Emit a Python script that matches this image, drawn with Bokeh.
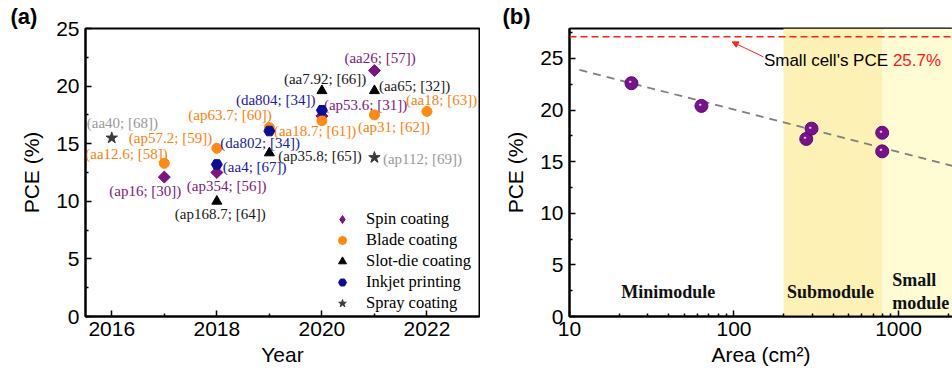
from bokeh.plotting import figure
from bokeh.layouts import row
from bokeh.models import (ColumnDataSource, Legend, LegendItem, Label, FixedTicker,
                          Arrow, NormalHead, BoxAnnotation, Span, Range1d, PrintfTickFormatter)
from bokeh.core.properties import value
from bokeh.embed import file_html
from bokeh.resources import INLINE

# ---------------- panel (a) data ----------------
spin_year = [2017, 2018, 2020, 2021]
spin_pce = [12.1, 12.5, 17.4, 21.35]
spin_labels = ["(ap16; [30])", "(ap354; [56])", "(ap53.6; [31])", "(aa26; [57])"]

blade_year = [2017, 2018, 2019, 2020, 2021, 2022]
blade_pce = [13.3, 14.6, 16.4, 17.0, 17.5, 17.8]
blade_labels = ["(aa12.6; [58])", "(ap57.2; [59])", "(ap63.7; [60])",
                "(aa18.7; [61])", "(ap31; [62])", "(aa18; [63])"]

slot_year = [2018, 2019, 2020, 2021]
slot_pce = [10.0, 14.2, 19.6, 19.6]
slot_labels = ["(ap168.7; [64])", "(ap35.8; [65])", "(aa7.92; [66])", "(aa65; [32])"]

inkjet_year = [2018, 2019, 2020]
inkjet_pce = [13.2, 16.1, 17.9]
inkjet_labels = ["(aa4; [67])", "(da802; [34])", "(da804; [34])"]

spray_year = [2016, 2021]
spray_pce = [15.5, 13.8]
spray_labels = ["(aa40; [68])", "(ap112; [69])"]

method_names = ["Spin coating", "Blade coating", "Slot-die coating", "Inkjet printing", "Spray coating"]

year_ticks = [2016, 2018, 2020, 2022]
year_minor = [2017, 2019, 2021]
pce_ticks = [0, 5, 10, 15, 20, 25]
pce_minor = [2.5, 7.5, 12.5, 17.5, 22.5, 27.5]

# ---------------- panel (b) data ----------------
area_cm2 = [23.8, 63.4, 275, 296, 796, 796]
pce_b = [22.6, 20.4, 17.2, 18.2, 17.8, 16.0]
fit_area = [11.5, 2300]
fit_pce = [23.9, 14.45]
small_cell_line = 27.1
submodule_range = [200, 800]
small_module_start = 800
area_ticks = [10, 100, 1000]
area_minor = [20, 30, 40, 50, 60, 70, 80, 90, 200, 300, 400, 500, 600, 700, 800, 900, 2000]

# label pixel offsets (dx, dy) relative to points, panel (a)
spin_off = [(-55, 14), (-30, 13.5), (2, -11), (-30, -13)]
blade_off = [(-79, -9), (-88, -10), (-81, -13), (-48, 10.5), (-16.5, 12), (-21, -11)]
slot_off = [(-42, 13), (9, 3), (-38, -12), (4.5, -5)]
inkjet_off = [(6, 3), (-49, 12), (-86, -10)]
spray_off = [(-25, -15), (8.5, 1)]

SANS = "Liberation Sans"
SERIF = "Liberation Serif"


def style_axes(p):
    for ax in (p.xaxis[0], p.yaxis[0]):
        ax.axis_line_width = 2
        ax.axis_line_color = "black"
        ax.major_tick_in = 6
        ax.major_tick_out = 0
        ax.minor_tick_in = 3
        ax.minor_tick_out = 0
        ax.major_tick_line_width = 1.5
        ax.minor_tick_line_width = 1.5
        ax.major_label_text_font = SANS
        ax.major_label_text_font_size = "21px"
        ax.major_label_text_color = "black"
        ax.axis_label_text_font = SANS
        ax.axis_label_text_font_size = "21px"
        ax.axis_label_text_font_style = "normal"
        ax.axis_label_text_color = "black"
    p.xaxis.major_label_standoff = 5
    p.yaxis.major_label_standoff = 6
    p.xaxis.axis_label_standoff = 4
    p.yaxis.axis_label_standoff = 10
    p.xgrid.visible = False
    p.ygrid.visible = False
    p.outline_line_color = "black"
    p.outline_line_width = 2
    p.outline_line_alpha = 1


def panel_title(p, text, offset):
    p.title.text = text
    p.title.align = "left"
    p.title.offset = offset
    p.title.standoff = 0
    p.title.text_font = SANS
    p.title.text_font_style = "bold"
    p.title.text_font_size = "22px"
    p.title.text_color = "black"


# ---------------- panel (a) ----------------
pa = figure(width=480, height=375, output_backend="svg", toolbar_location=None,
            x_range=Range1d(2015.5, 2023.0), y_range=Range1d(0, 25),
            min_border_left=85, min_border_right=1, min_border_top=27, min_border_bottom=59,
            x_axis_label="Year", y_axis_label="PCE (%)")
pa.xaxis.ticker = FixedTicker(ticks=year_ticks, minor_ticks=year_minor)
pa.yaxis.ticker = FixedTicker(ticks=pce_ticks, minor_ticks=pce_minor)
style_axes(pa)
panel_title(pa, "(a)", -75)

series = [
    (spin_year, spin_pce, spin_labels, spin_off, "square", 8.5, "#7d1480", "#7d1a80"),
    (blade_year, blade_pce, blade_labels, blade_off, "circle", 10, "#ff8a12", "#ff7f0e"),
    (slot_year, slot_pce, slot_labels, slot_off, "triangle", 10, "#000000", "#1a1a1a"),
    (inkjet_year, inkjet_pce, inkjet_labels, inkjet_off, "hex", 11, "#0c0c96", "#1a1aa6"),
    (spray_year, spray_pce, spray_labels, spray_off, "star", 12, "#3a3a3a", "#9a9a9a"),
]
items = []
for (xs, ys, labs, offs, marker, size, mcolor, tcolor), name in zip(series, method_names):
    src = ColumnDataSource(dict(x=xs, y=ys, t=labs,
                                dx=[o[0] for o in offs], dy=[o[1] for o in offs]))
    r = pa.scatter("x", "y", source=src, marker=marker, size=size,
                   angle=0.785398 if marker == "square" else 0.0,
                   fill_color=mcolor, line_color=mcolor)
    pa.text("x", "y", text="t", source=src, x_offset="dx", y_offset="dy",
            text_font=value(SERIF), text_font_size="15px", text_color=tcolor,
            text_align="left", text_baseline="middle")
    if marker == "square":
        # legend swatch: a diamond (the rotated square is not rotated inside legends)
        r_leg = pa.scatter(x=[float("nan")], y=[float("nan")], marker="diamond", size=15,
                           fill_color=mcolor, line_color=mcolor)
        items.append(LegendItem(label=name, renderers=[r_leg]))
    else:
        items.append(LegendItem(label=name, renderers=[r]))

leg = Legend(items=items, location=(247, 3), border_line_alpha=0, background_fill_alpha=0,
             padding=0, margin=0, spacing=1, glyph_width=20, glyph_height=20,
             label_height=20, label_standoff=14, label_text_font=SERIF,
             label_text_font_size="16.5px", label_text_color="black")
pa.add_layout(leg)

# ---------------- panel (b) ----------------
pb = figure(width=472, height=375, output_backend="svg", toolbar_location=None,
            x_axis_type="log", x_range=Range1d(10, 2130), y_range=Range1d(0, 27.9),
            min_border_left=89, min_border_right=0, min_border_top=28, min_border_bottom=59,
            x_axis_label="Area (cm²)", y_axis_label="PCE (%)")
pb.xaxis.ticker = FixedTicker(ticks=area_ticks, minor_ticks=area_minor)
pb.xaxis.formatter = PrintfTickFormatter(format="%d")
pb.yaxis.ticker = FixedTicker(ticks=pce_ticks, minor_ticks=pce_minor)
style_axes(pb)
panel_title(pb, "(b)", -67)

pb.add_layout(BoxAnnotation(left=submodule_range[0], right=submodule_range[1],
                            fill_color="#fef1b6", fill_alpha=1, line_alpha=0, level="underlay"))
pb.add_layout(BoxAnnotation(left=small_module_start, fill_color="#fffcd3", fill_alpha=1,
                            line_alpha=0, level="underlay"))

pb.add_layout(Span(location=small_cell_line, dimension="width", line_color="#ff2020",
                   line_dash="7 4", line_width=1.5))
pb.line(fit_area, fit_pce, line_color="#7f7f7f", line_dash="8 6", line_width=1.8)

pb.scatter(area_cm2, pce_b, marker="circle", size=13, fill_color="#76128a", line_color="#5c0a6e")
pb.text(area_cm2, pce_b, text=["●"] * len(area_cm2), x_offset=-1.5, y_offset=-2,
        text_font=value(SANS), text_font_size="5px", text_color="#f0d8f6",
        text_align="center", text_baseline="middle")

pb.add_layout(Arrow(x_start=151, y_start=25.15, x_end=97.5, y_end=26.6,
                    line_color="#ff2020", line_width=1,
                    end=NormalHead(size=6, fill_color="#ff2020", line_color="#ff2020")))
pb.add_layout(Label(x=152, y=24.8, text="Small cell's PCE", text_font=SANS,
                    text_font_size="17px", text_color="black", text_baseline="middle"))
pb.add_layout(Label(x=152, y=24.8, x_offset=129, text="25.7%", text_font=SANS,
                    text_font_size="17px", text_color="#ff1a1a", text_baseline="middle"))

for txt, xx, yy, align in [("Minimodule", 39.8, 2.33, "center"),
                           ("Submodule", 386, 2.33, "center"),
                           ("Small", 916, 3.49, "left"),
                           ("module", 916, 1.26, "left")]:
    pb.add_layout(Label(x=xx, y=yy, text=txt, text_font=SERIF, text_font_style="bold",
                        text_font_size="18px", text_color="#111111",
                        text_align=align, text_baseline="middle"))

layout = row(pa, pb)
open("out.html", "w").write(file_html(layout, INLINE))
